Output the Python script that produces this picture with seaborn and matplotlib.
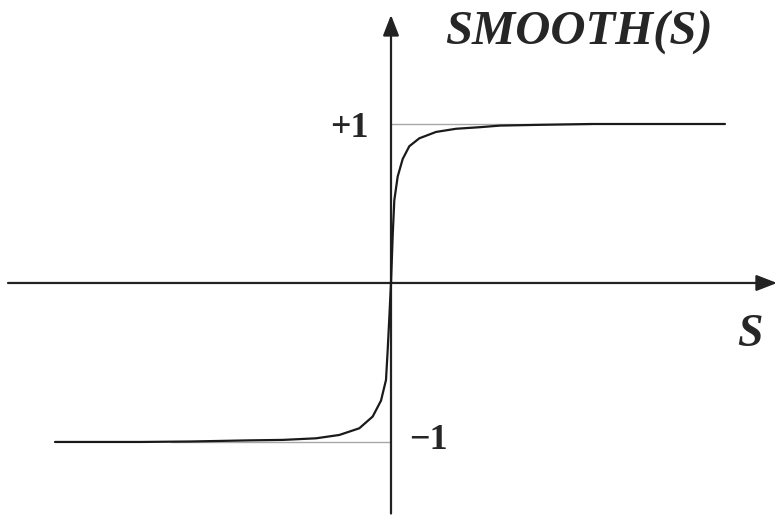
import matplotlib
matplotlib.use("Agg")
import matplotlib.pyplot as plt
from matplotlib import font_manager
import seaborn as sns
import pandas as pd

# curve (s in arbitrary units, SMOOTH(s) in units of the +1 level)
s_vals = [-3.36, -2.5, -2.0, -1.42, -1.08, -0.75, -0.517, -0.317, -0.183, -0.10,
          -0.05, -0.033, -0.017, 0.0, 0.017, 0.033, 0.067, 0.117, 0.183, 0.283,
          0.45, 0.65, 0.89, 1.09, 1.5, 2.0, 2.5, 3.34]
smooth_vals = [-1.0, -1.0, -0.997, -0.99, -0.987, -0.977, -0.956, -0.914, -0.84, -0.74,
               -0.61, -0.42, -0.22, 0.0, 0.30, 0.52, 0.67, 0.78, 0.86, 0.91,
               0.95, 0.97, 0.98, 0.99, 0.995, 1.0, 1.0, 1.0]

level_labels = ["+1", "\u22121"]
level_values = [1, -1]
x_label = "S"
y_label = "SMOOTH(S)"

df = pd.DataFrame({"s": s_vals, "smooth": smooth_vals})


def times_like(style):
    # Times-like serif, whatever clone is installed
    for fam in ["Liberation Serif", "FreeSerif", "Tinos", "DejaVu Serif"]:
        for f in font_manager.fontManager.ttflist:
            if f.name == fam and f.style == style and f.weight in (700, "bold"):
                return font_manager.FontProperties(fname=f.fname)
    return font_manager.FontProperties(family="serif", weight="bold", style=style)


fp_bi = times_like("italic")
fp_b = times_like("normal")

sns.set_style("white")

fig = plt.figure(figsize=(7.77, 5.17), dpi=100)
ax = fig.add_axes([0, 0, 1, 1])
ax.set_xlim(-3.91, 3.86)
ax.set_ylim(-1.472, 1.78)
ax.axis("off")

# thin grey guide lines at the two levels
ax.plot([0, 2.0], [level_values[0]] * 2, color="#a8a8a8", lw=1.0, zorder=1)
ax.plot([-2.2, 0], [level_values[1]] * 2, color="#a8a8a8", lw=1.0, zorder=1)

# axes with filled arrow heads
arrow = dict(arrowstyle="-|>,head_length=0.9,head_width=0.35", color="#222222",
             lw=1.6, mutation_scale=14, shrinkA=0, shrinkB=0)
ax.annotate("", xy=(3.86, 0), xytext=(-3.83, 0), arrowprops=arrow)
ax.annotate("", xy=(0, 1.686), xytext=(0, -1.45), arrowprops=arrow)

sns.lineplot(data=df, x="s", y="smooth", ax=ax, color="#1a1a1a", lw=1.6,
             estimator=None, sort=False, zorder=3)

ax.text(1.88, 1.572, y_label, fontproperties=fp_bi, fontsize=35,
        ha="center", va="center")
ax.text(3.59, -0.33, x_label, fontproperties=fp_bi, fontsize=33,
        ha="center", va="center")
ax.text(-0.42, level_values[0] - 0.03, level_labels[0], fontproperties=fp_b,
        fontsize=26, ha="center", va="center")
ax.text(0.37, level_values[1] + 0.01, level_labels[1], fontproperties=fp_b,
        fontsize=26, ha="center", va="center")

fig.savefig("out.png", dpi=100)
